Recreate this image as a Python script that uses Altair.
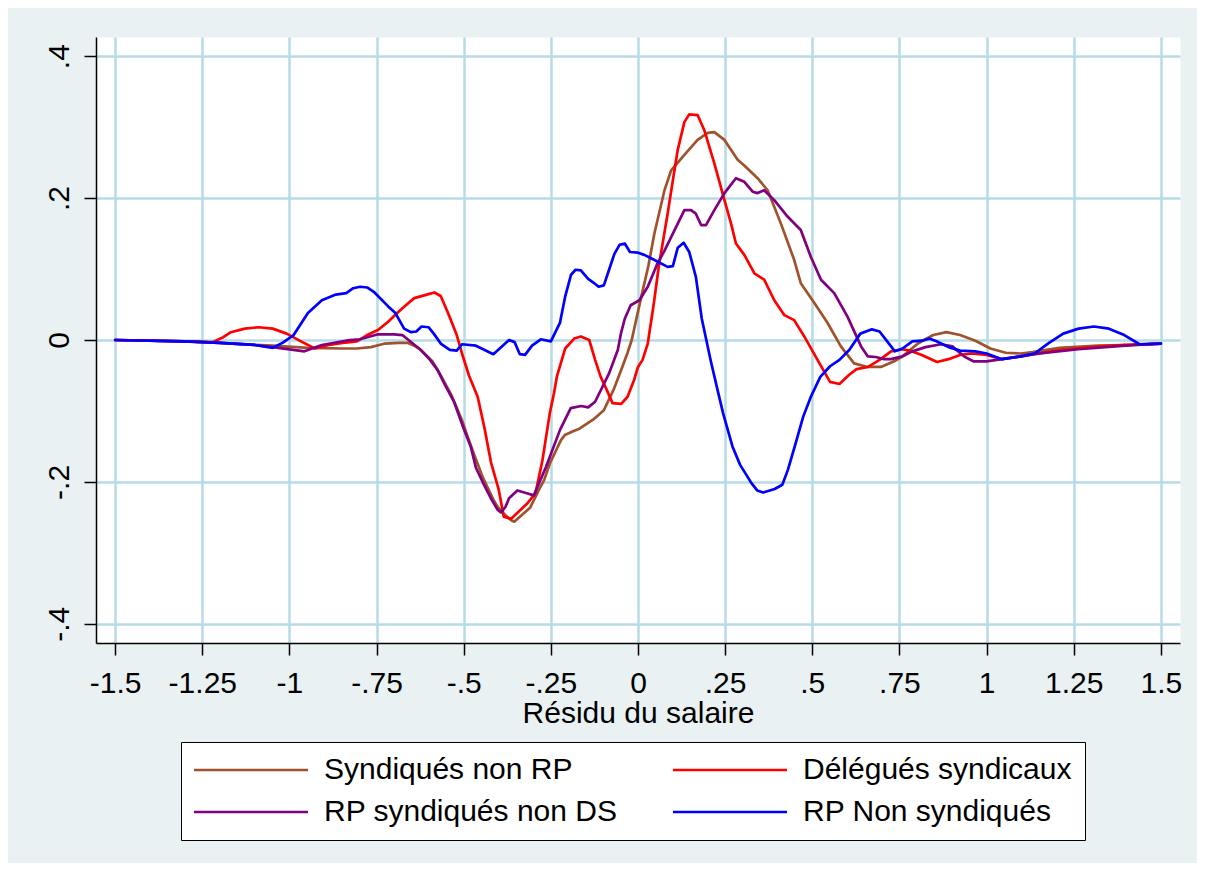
import altair as alt
import pandas as pd

SERIES = ["Syndiqués non RP", "Délégués syndicaux", "RP syndiqués non DS", "RP Non syndiqués"]
COLORS = ["#a0522d", "#ff0000", "#800080", "#0000ff"]
X_TICKS = [-1.5, -1.25, -1, -0.75, -0.5, -0.25, 0, 0.25, 0.5, 0.75, 1, 1.25, 1.5]
Y_TICKS = [-0.4, -0.2, 0, 0.2, 0.4]
X_TITLE = "Résidu du salaire"

SYNDIQUES_NON_RP = [
    (-1.5, 0.0), (-1.3, -0.002), (-1.2, -0.004), (-1.1, -0.007), (-1.048, -0.008), (-0.947, -0.011),
    (-0.85, -0.012), (-0.807, -0.012), (-0.766, -0.010), (-0.726, -0.005), (-0.686, -0.004), (-0.661, -0.004),
    (-0.642, -0.008), (-0.626, -0.013), (-0.59, -0.030), (-0.566, -0.050), (-0.536, -0.077), (-0.505, -0.113),
    (-0.489, -0.136), (-0.475, -0.155), (-0.445, -0.194), (-0.415, -0.225), (-0.403, -0.235), (-0.385, -0.245),
    (-0.364, -0.254), (-0.355, -0.256), (-0.334, -0.247), (-0.309, -0.236), (-0.284, -0.211), (-0.269, -0.197),
    (-0.253, -0.174), (-0.221, -0.141), (-0.21, -0.134), (-0.183, -0.128), (-0.168, -0.125), (-0.128, -0.112),
    (-0.098, -0.099), (-0.07, -0.070), (-0.048, -0.042), (-0.03, -0.018), (-0.018, 0.0), (0.008, 0.058),
    (0.03, 0.105), (0.047, 0.150), (0.076, 0.211), (0.095, 0.239), (0.133, 0.261), (0.171, 0.282),
    (0.2, 0.292), (0.219, 0.293), (0.248, 0.282), (0.286, 0.254), (0.305, 0.246), (0.343, 0.228),
    (0.372, 0.211), (0.41, 0.164), (0.448, 0.113), (0.467, 0.080), (0.506, 0.052), (0.544, 0.024),
    (0.582, -0.009), (0.62, -0.033), (0.659, -0.038), (0.697, -0.038), (0.735, -0.030), (0.759, -0.023),
    (0.803, -0.005), (0.847, 0.007), (0.885, 0.011), (0.924, 0.007), (0.968, -0.001), (1.011, -0.012),
    (1.055, -0.018), (1.099, -0.019), (1.132, -0.017), (1.209, -0.011), (1.319, -0.008), (1.428, -0.007),
    (1.5, -0.005),
]

DELEGUES_SYNDICAUX = [
    (-1.5, 0.0), (-1.3, -0.002), (-1.22, -0.003), (-1.19, 0.004), (-1.168, 0.011), (-1.128, 0.016),
    (-1.088, 0.018), (-1.048, 0.016), (-1.008, 0.009), (-0.967, -0.002), (-0.927, -0.012), (-0.887, -0.007),
    (-0.847, -0.004), (-0.807, -0.002), (-0.777, 0.007), (-0.746, 0.014), (-0.716, 0.026), (-0.691, 0.038),
    (-0.666, 0.049), (-0.642, 0.059), (-0.606, 0.064), (-0.584, 0.067), (-0.566, 0.062), (-0.545, 0.038),
    (-0.520, 0.007), (-0.505, -0.019), (-0.485, -0.050), (-0.460, -0.080), (-0.440, -0.125), (-0.422, -0.172),
    (-0.400, -0.210), (-0.385, -0.249), (-0.364, -0.252), (-0.345, -0.243), (-0.317, -0.230), (-0.294, -0.216),
    (-0.274, -0.169), (-0.253, -0.103), (-0.241, -0.075), (-0.233, -0.052), (-0.209, -0.012), (-0.183, 0.002),
    (-0.164, 0.005), (-0.140, 0.0), (-0.123, -0.028), (-0.107, -0.052), (-0.090, -0.070), (-0.073, -0.089),
    (-0.048, -0.090), (-0.030, -0.080), (-0.011, -0.056), (0.0, -0.038), (0.013, -0.028), (0.028, -0.005),
    (0.045, 0.050), (0.060, 0.105), (0.085, 0.178), (0.100, 0.225), (0.114, 0.268), (0.133, 0.307),
    (0.147, 0.318), (0.171, 0.317), (0.190, 0.296), (0.219, 0.249), (0.248, 0.197), (0.267, 0.164),
    (0.281, 0.136), (0.305, 0.120), (0.334, 0.094), (0.362, 0.085), (0.391, 0.056), (0.420, 0.035),
    (0.448, 0.028), (0.477, 0.005), (0.515, -0.028), (0.551, -0.059), (0.578, -0.062), (0.606, -0.049),
    (0.627, -0.041), (0.660, -0.038), (0.693, -0.028), (0.726, -0.016), (0.759, -0.013), (0.781, -0.015),
    (0.814, -0.021), (0.858, -0.031), (0.891, -0.027), (0.924, -0.021), (0.957, -0.019), (1.0, -0.021),
    (1.044, -0.027), (1.1, -0.023), (1.2, -0.015), (1.3, -0.010), (1.4, -0.007), (1.5, -0.005),
]

RP_SYNDIQUES_NON_DS = [
    (-1.5, 0.0), (-1.3, -0.002), (-1.2, -0.004), (-1.1, -0.007), (-1.048, -0.010), (-0.957, -0.016),
    (-0.907, -0.007), (-0.827, 0.0), (-0.797, 0.001), (-0.746, 0.008), (-0.700, 0.008), (-0.676, 0.007),
    (-0.646, -0.005), (-0.623, -0.014), (-0.600, -0.026), (-0.575, -0.042), (-0.556, -0.061), (-0.527, -0.088),
    (-0.500, -0.125), (-0.480, -0.150), (-0.465, -0.180), (-0.441, -0.205), (-0.420, -0.225), (-0.403, -0.239),
    (-0.393, -0.243), (-0.380, -0.235), (-0.370, -0.223), (-0.346, -0.212), (-0.319, -0.216), (-0.299, -0.219),
    (-0.264, -0.179), (-0.224, -0.127), (-0.193, -0.096), (-0.163, -0.093), (-0.143, -0.095), (-0.123, -0.087),
    (-0.083, -0.047), (-0.058, -0.014), (-0.049, 0.009), (-0.038, 0.030), (-0.021, 0.049), (0.004, 0.056),
    (0.028, 0.075), (0.056, 0.108), (0.075, 0.125), (0.100, 0.150), (0.133, 0.183), (0.152, 0.183),
    (0.166, 0.178), (0.181, 0.162), (0.195, 0.162), (0.219, 0.183), (0.248, 0.207), (0.281, 0.228),
    (0.305, 0.223), (0.329, 0.209), (0.343, 0.207), (0.362, 0.211), (0.391, 0.197), (0.429, 0.174),
    (0.467, 0.155), (0.496, 0.117), (0.525, 0.085), (0.563, 0.066), (0.601, 0.033), (0.640, -0.009),
    (0.659, -0.023), (0.682, -0.024), (0.706, -0.027), (0.726, -0.027), (0.759, -0.023), (0.787, -0.016),
    (0.825, -0.010), (0.869, -0.006), (0.902, -0.009), (0.935, -0.023), (0.962, -0.030), (1.0, -0.030),
    (1.044, -0.027), (1.132, -0.020), (1.264, -0.013), (1.428, -0.007), (1.5, -0.005),
]

RP_NON_SYNDIQUES = [
    (-1.5, 0.0), (-1.3, -0.002), (-1.2, -0.004), (-1.1, -0.007), (-1.048, -0.011), (-1.02, -0.004),
    (-0.988, 0.007), (-0.947, 0.038), (-0.907, 0.056), (-0.867, 0.064), (-0.837, 0.066), (-0.817, 0.073),
    (-0.797, 0.075), (-0.777, 0.074), (-0.756, 0.067), (-0.716, 0.047), (-0.696, 0.038), (-0.671, 0.016),
    (-0.651, 0.011), (-0.636, 0.012), (-0.621, 0.019), (-0.601, 0.018), (-0.586, 0.009), (-0.566, -0.005),
    (-0.540, -0.014), (-0.520, -0.015), (-0.505, -0.006), (-0.465, -0.008), (-0.415, -0.020), (-0.370, 0.0),
    (-0.354, -0.003), (-0.339, -0.020), (-0.324, -0.021), (-0.304, -0.008), (-0.279, 0.001), (-0.250, -0.002),
    (-0.224, 0.024), (-0.209, 0.061), (-0.192, 0.092), (-0.179, 0.099), (-0.164, 0.098), (-0.143, 0.086),
    (-0.128, 0.081), (-0.113, 0.075), (-0.098, 0.077), (-0.083, 0.099), (-0.068, 0.121), (-0.053, 0.134),
    (-0.038, 0.136), (-0.023, 0.124), (0.0, 0.123), (0.018, 0.120), (0.046, 0.113), (0.085, 0.103),
    (0.100, 0.104), (0.114, 0.130), (0.131, 0.137), (0.147, 0.124), (0.166, 0.089), (0.183, 0.030),
    (0.209, -0.030), (0.228, -0.070), (0.244, -0.103), (0.271, -0.150), (0.293, -0.176), (0.326, -0.202),
    (0.342, -0.212), (0.359, -0.215), (0.392, -0.210), (0.414, -0.204), (0.430, -0.183), (0.452, -0.146),
    (0.474, -0.108), (0.496, -0.080), (0.523, -0.052), (0.551, -0.037), (0.578, -0.028), (0.606, -0.014),
    (0.638, 0.009), (0.671, 0.015), (0.693, 0.012), (0.715, -0.002), (0.737, -0.016), (0.759, -0.012),
    (0.787, -0.002), (0.814, -0.001), (0.836, 0.002), (0.858, -0.002), (0.891, -0.010), (0.924, -0.015),
    (0.968, -0.016), (1.0, -0.019), (1.044, -0.027), (1.099, -0.023), (1.138, -0.019), (1.176, -0.005),
    (1.220, 0.009), (1.264, 0.016), (1.308, 0.019), (1.351, 0.016), (1.395, 0.007), (1.439, -0.006),
    (1.5, -0.005),
]

rows = []
for name, pts in zip(SERIES, [SYNDIQUES_NON_RP, DELEGUES_SYNDICAUX, RP_SYNDIQUES_NON_DS, RP_NON_SYNDIQUES]):
    for xv, yv in pts:
        rows.append({"x": xv, "y": yv, "serie": name})
df = pd.DataFrame(rows)

FONT = "Liberation Sans"
LABEL_EXPR = ("datum.value == 0 ? '0' : (datum.value < 0 ? '-' : '') + "
              "replace(toString(abs(datum.value)), '0.', '.')")

# legend key: a wide horizontal stroke drawn as a custom path (5x the nominal symbol size)
KEY_PATH = "M-5,0L5,0"
KEY_SIZE = 520          # sqrt(520) ~ 22.8 -> drawn stroke ~114 px long

chart = alt.Chart(df).mark_line(strokeWidth=2.7, strokeJoin="round", strokeCap="round").encode(
    x=alt.X("x:Q",
            scale=alt.Scale(domain=[-1.555, 1.555], nice=False, zero=False),
            axis=alt.Axis(values=X_TICKS, title=X_TITLE, labelExpr=LABEL_EXPR,
                          labelPadding=13, titlePadding=0, labelFlush=False, labelOverlap=False)),
    y=alt.Y("y:Q",
            scale=alt.Scale(domain=[-0.427, 0.427], nice=False, zero=False),
            axis=alt.Axis(values=Y_TICKS, title=None, labelExpr=LABEL_EXPR, labelAngle=270,
                          labelAlign="center", labelBaseline="bottom", labelPadding=10,
                          labelOverlap=False)),
    color=alt.Color("serie:N",
                    scale=alt.Scale(domain=SERIES, range=COLORS),
                    legend=alt.Legend(title=None, orient="none", legendX=85, legendY=705,
                                      direction="horizontal", columns=2,
                                      symbolType=KEY_PATH, symbolSize=KEY_SIZE,
                                      symbolOffset=42, symbolStrokeWidth=2.7,
                                      labelFontSize=30, labelFont=FONT,
                                      labelColor="black", labelOffset=58, columnPadding=49,
                                      rowPadding=12, padding=13, fillColor="white",
                                      strokeColor="black", labelLimit=600)),
).properties(
    width=1084, height=606,
    background="#e9f1f3",
    padding={"left": 88, "top": 29, "right": 17, "bottom": 220},
    autosize=alt.AutoSizeParams(type="none"),
).configure_view(
    fill="white", stroke="transparent"
).configure_axis(
    domainColor="black", domainWidth=1.5,
    tickColor="black", tickWidth=1.5, tickSize=12,
    labelFont=FONT, labelFontSize=30, labelColor="black",
    titleFont=FONT, titleFontSize=30, titleFontWeight="normal", titleColor="black",
    grid=True, gridColor="#b6dbe6", gridWidth=2.5,
)

chart.save("out.html", embed_options={"renderer": "svg", "actions": False})
